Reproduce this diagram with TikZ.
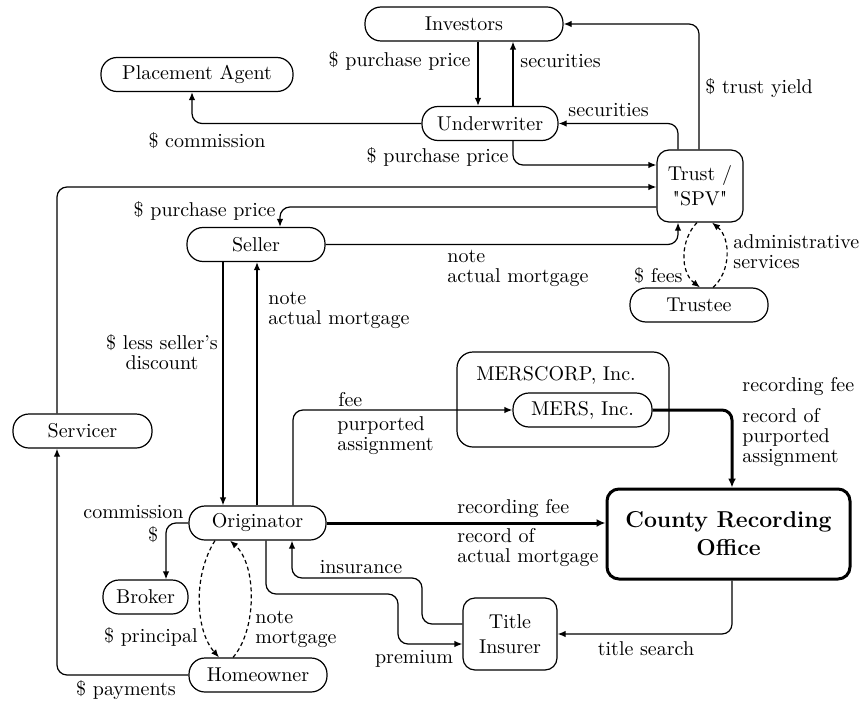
\documentclass[tikz,border=0pt]{standalone}
\usepackage{fontspec}
\usetikzlibrary{arrows.meta}
\tikzset{
  pill/.style={draw, line width=0.6pt, rounded corners=8pt, minimum height=17pt, inner sep=1pt},
  boxr/.style={draw, line width=0.6pt, rounded corners=6pt, minimum height=36pt, align=center, inner sep=1pt, font=\fontsize{10}{12.5}\selectfont},
  lbl/.style={inner sep=0pt, align=left},
  arr/.style={line width=0.6pt, rounded corners=5pt, -{Latex[length=4pt,width=3.2pt]}},
  thickarr/.style={line width=1.5pt, rounded corners=5pt, -{Latex[length=4.5pt,width=4pt]}},
  dasharr/.style={arr, dash pattern=on 2pt off 1.5pt},
}
\begin{document}
\begin{tikzpicture}[x=0.5pt, y=-0.5pt, font=\fontsize{10}{10}\selectfont]
  \useasboundingbox (0,0) rectangle (860,700);
  % parties
  \node[pill, minimum width=96pt] (pa) at (197,74.5) {Placement Agent};
  \node[pill, minimum width=99pt] (inv) at (464,24) {Investors};
  \node[pill, minimum width=68pt] (und) at (490,123.5) {Underwriter};
  \node[boxr, minimum width=43pt] (trust) at (700,186) {Trust /\\\textquotedbl SPV\textquotedbl};
  \node[pill, minimum width=69pt] (seller) at (256,244.5) {Seller};
  \node[pill, minimum width=69pt] (trustee) at (699,305) {Trustee};
  \node[draw, line width=0.6pt, rounded corners=8pt, minimum width=106pt, minimum height=47.5pt] (merscorp) at (563,399.5) {};
  \node[lbl] (mcorp) at (556,375) {MERSCORP, Inc.};
  \node[pill, minimum width=69.5pt] (mers) at (582.5,410) {MERS, Inc.};
  \node[pill, minimum width=69.5pt] (serv) at (82.5,431) {Servicer};
  \node[pill, minimum width=68.5pt] (orig) at (257.5,523) {Originator};
  \node[boxr, line width=1.5pt, minimum width=121.5pt, minimum height=45pt, font=\fontsize{11.5}{14}\selectfont\bfseries] (county) at (728.5,534) {County Recording\\Office};
  \node[pill, minimum width=42.5pt] (broker) at (145.5,597) {Broker};
  \node[pill, minimum width=69pt] (home) at (258,675) {Homeowner};
  \node[boxr, minimum width=47pt] (title) at (510,634) {Title\\Insurer};

  % securitisation side
  \draw[arr] (und.west) -| (192,0 |- pa.south);
  \node[lbl] (lcomm) at (207,141) {\$ commission};
  \draw[arr] (478,0 |- inv.south) -- (478,0 |- und.north);
  \node[lbl, anchor=east] (lpp1) at (471,61) {\$ purchase price};
  \draw[arr] (513,0 |- und.north) -- (513,0 |- inv.south);
  \node[lbl, anchor=west] (lsec1) at (520,61) {securities};
  \draw[arr] (699,0 |- trust.north) |- (inv.east);
  \node[lbl, anchor=west] (lyield) at (705,88) {\$ trust yield};
  \draw[arr] (678,0 |- trust.north) |- (und.east);
  \node[lbl, anchor=west] (lsec2) at (568,110) {securities};
  \draw[arr] (513,0 |- und.south) |- (trust.west |- 0,165);
  \node[lbl, anchor=east] (lpp2) at (509,157) {\$ purchase price};
  \draw[arr] (57,0 |- serv.north) |- (trust.west |- 0,187);
  \draw[arr] (trust.west |- 0,207) -| (280,0 |- seller.north);
  \node[lbl, anchor=east] (lpp3) at (276,211) {\$ purchase price};
  \draw[arr] (seller.east) -| (678,0 |- trust.south);
  \node[lbl, anchor=west] (lnote1) at (447,268) {note\\actual mortgage};
  \draw[dasharr] (697,0 |- trust.south) .. controls (680,240) and (680,272) .. (700,0 |- trustee.north);
  \node[lbl, anchor=east] (lfees) at (683,276) {\$ fees};
  \draw[dasharr] (713,0 |- trustee.north) .. controls (731,272) and (731,238) .. (712,0 |- trust.south);
  \node[lbl, anchor=west] (ladmin) at (733,252) {administrative\\services};

  % origination side
  \draw[arr] (223,0 |- seller.south) -- (223,0 |- orig.north);
  \node[lbl, align=center] (lless) at (162,352) {\$ less seller's\\discount};
  \draw[arr] (257,0 |- orig.north) -- (257,0 |- seller.south);
  \node[lbl, anchor=west] (lnote2) at (268,310) {note\\actual mortgage};
  \draw[arr] (293,0 |- orig.north) |- (mers.west);
  \node[lbl, anchor=west] (lfee) at (338,400) {fee};
  \node[lbl, anchor=west] (lpurp) at (337,436) {purported\\assignment};
  \draw[thickarr] (mers.east) -| (732,0 |- county.north);
  \node[lbl, anchor=west] (lrec1) at (742,387) {recording fee};
  \node[lbl, anchor=west] (lrec2) at (742,438) {record of\\purported\\assignment};
  \draw[thickarr] (orig.east) -- (orig.east -| county.west);
  \node[lbl, anchor=west] (lrec3) at (457,509) {recording fee};
  \node[lbl, anchor=west] (lrec4) at (457,548) {record of\\actual mortgage};
  \draw[arr] (orig.west) -| (166,0 |- broker.north);
  \node[lbl, anchor=east] (lcomm2) at (184,512) {commission};
  \node[lbl] (ldol) at (153,535) {\$};
  \draw[dasharr] (215,0 |- orig.south) .. controls (193,575) and (195,630) .. (219,0 |- home.north);
  \node[lbl, anchor=east] (lprin) at (198,637) {\$ principal};
  \draw[dasharr] (233,0 |- home.north) .. controls (257,630) and (257,565) .. (230,0 |- orig.south);
  \node[lbl, anchor=west] (lnote3) at (255,629) {note\\mortgage};
  \draw[arr] (home.west) -| (57,0 |- serv.south);
  \node[lbl] (lpay) at (126,690) {\$ payments};
  \draw[arr] (266,0 |- orig.south) |- (398,594) |- (title.west |- 0,644);
  \node[lbl] (lprem) at (414,659) {premium};
  \draw[arr] (title.west |- 0,624) -| (422,578) -| (292,0 |- orig.south);
  \node[lbl] (lins) at (361,567) {insurance};
  \draw[arr] (732,0 |- county.south) |- (title.east);
  \node[lbl] (ltitle) at (646,649) {title search};
\end{tikzpicture}
\end{document}
